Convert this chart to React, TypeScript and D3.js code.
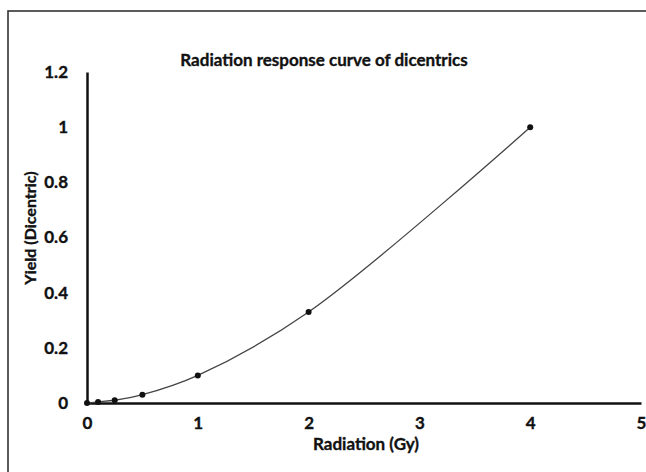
import React, { useRef, useEffect } from "react";
import * as d3 from "d3";

// Dose (Gy) and dicentric yield
const doses = [0, 0.1, 0.25, 0.5, 1, 2, 4];
const yields = [0, 0.004, 0.01, 0.03, 0.1, 0.33, 1.0];
const xTicks = [0, 1, 2, 3, 4, 5];
const yTicks = [0, 0.2, 0.4, 0.6, 0.8, 1, 1.2];

const W = 646;
const H = 472;
const FONT = "Lato, 'Open Sans', sans-serif";

function ResponseCurve() {
  const svgRef = useRef<SVGSVGElement>(null);

  useEffect(() => {
    const svg = d3.select(svgRef.current);
    svg.selectAll("*").remove();

    const boldText = (sel: any, size: number) =>
      sel
        .style("font-family", FONT)
        .style("font-weight", "bold")
        .style("font-size", `${size}px`)
        .attr("fill", "#111")
        .attr("stroke", "#111")
        .attr("stroke-width", 0.35);

    // outer frame (runs off the right and bottom edges)
    svg
      .append("rect")
      .attr("x", 8)
      .attr("y", 11)
      .attr("width", W)
      .attr("height", H)
      .attr("fill", "none")
      .attr("stroke", "#333")
      .attr("stroke-width", 1.6);

    const x = d3.scaleLinear().domain([0, 5]).range([87, 641]);
    const y = d3.scaleLinear().domain([0, 1.2]).range([403, 72]);

    // title
    svg
      .append("text")
      .attr("x", 324)
      .attr("y", 66)
      .attr("text-anchor", "middle")
      .call(boldText, 17)
      .text("Radiation response curve of dicentrics");

    // y axis
    const yAxis = svg
      .append("g")
      .attr("transform", `translate(${x(0)},0)`)
      .call(d3.axisLeft(y).tickValues(yTicks).tickSize(0).tickPadding(19).tickFormat((d) => String(d)));
    yAxis.select(".domain").attr("stroke", "#111").attr("stroke-width", 2.5);
    yAxis.selectAll("text").call(boldText, 17);

    // x axis
    const xAxis = svg
      .append("g")
      .attr("transform", `translate(0,${y(0)})`)
      .call(d3.axisBottom(x).tickValues(xTicks).tickSize(0).tickPadding(14).tickFormat((d) => String(d)));
    xAxis.select(".domain").attr("stroke", "#111").attr("stroke-width", 2.5);
    xAxis.selectAll("text").call(boldText, 17);

    // axis titles
    svg
      .append("text")
      .attr("x", 366)
      .attr("y", 450)
      .attr("text-anchor", "middle")
      .call(boldText, 17)
      .text("Radiation (Gy)");

    svg
      .append("text")
      .attr("transform", "translate(36,228) rotate(-90)")
      .attr("text-anchor", "middle")
      .call(boldText, 16)
      .text("Yield (Dicentric)");

    // smoothed line through the points
    const pts: [number, number][] = doses.map((d, i) => [d, yields[i]]);
    const line = d3
      .line<[number, number]>()
      .x((d) => x(d[0]))
      .y((d) => y(d[1]))
      .curve(d3.curveCatmullRom.alpha(0.5));

    svg
      .append("path")
      .datum(pts)
      .attr("d", line)
      .attr("fill", "none")
      .attr("stroke", "#444")
      .attr("stroke-width", 1.3);

    svg
      .selectAll("circle.pt")
      .data(pts)
      .enter()
      .append("circle")
      .attr("class", "pt")
      .attr("cx", (d) => x(d[0]))
      .attr("cy", (d) => y(d[1]))
      .attr("r", 3)
      .attr("fill", "#111");
  }, []);

  return (
    <svg
      ref={svgRef}
      width={W}
      height={H}
      style={{ position: "absolute", left: 0, top: 0, background: "#fff" }}
    />
  );
}

export default function App() {
  return <ResponseCurve />;
}
